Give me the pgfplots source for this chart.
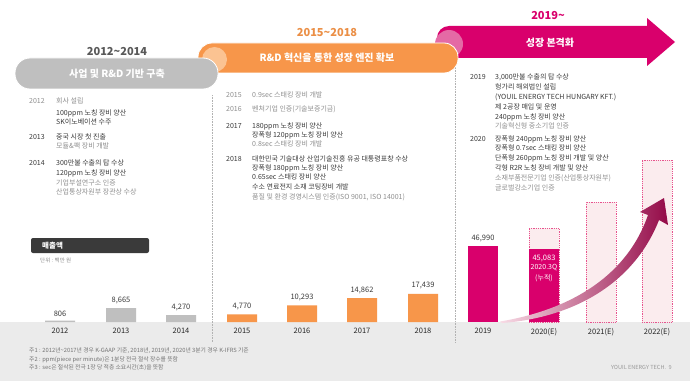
\documentclass[border=0pt]{standalone}
\usepackage{fontspec}
\setmainfont{Noto Sans CJK KR}
\usepackage{pgfplots}
\pgfplotsset{compat=1.18}
\definecolor{cgray}{HTML}{BFBFBF}
\definecolor{corange}{HTML}{F7964A}
\definecolor{cpeach}{HTML}{FBC392}
\definecolor{cmag}{HTML}{D9006C}
\definecolor{cpink}{HTML}{E46AA5}
\definecolor{cpale}{HTML}{FBECEE}
\definecolor{cdash}{HTML}{E8548E}
\definecolor{tdark}{HTML}{3A3A3A}
\definecolor{tlight}{HTML}{8F8F8F}
\definecolor{band}{HTML}{EBEBEB}
\definecolor{adark}{HTML}{940A48}
\definecolor{alight}{HTML}{F8DCE6}
\newcommand\fs[1]{\fontsize{#1}{#1}\selectfont}
\newcommand\Ld[3]{\node[anchor=west,inner sep=0pt,text=tdark,font=\fs{7}] at (#1,#2) {#3};}
\newcommand\Lg[3]{\node[anchor=west,inner sep=0pt,text=tlight,font=\fs{7}] at (#1,#2) {#3};}
\begin{document}
\begin{tikzpicture}
\begin{scope}[x=1pt,y=-1pt,shift={(0pt,381pt)}]
% background
\fill[white] (0,0) rectangle (690,381);
\fill[band] (0,322) rectangle (690,381);
% separators
\draw[densely dotted, black!30, line width=0.6pt] (212,95) -- (212,342);
\draw[densely dotted, black!30, line width=0.6pt] (455,65) -- (455,342);
% magenta arrow
\fill[cmag, rounded corners=12pt] (437,26) rectangle (660,58);
\fill[cmag] (647,18) -- (675,42) -- (647,66) -- cycle;
\fill[cpink] (449,44) circle (14);
% orange banner
\filldraw[fill=corange, draw=white, line width=0.8pt, rounded corners=14pt] (198,43) rectangle (458,73);
\fill[cpeach] (214.5,59.5) circle (12.5);
% gray banner
\filldraw[fill=cgray, draw=white, line width=0.8pt, rounded corners=15pt] (15,58) rectangle (218,89);
% headings
\node[text=black!65, font=\fs{11}\bfseries] at (117,52) {2012\textasciitilde2014};
\node[text=white, font=\fs{10}\bfseries] at (117,74) {사업 및 R\&D 기반 구축};
\node[text=corange!95!black, font=\fs{11}\bfseries] at (327,33) {2015\textasciitilde2018};
\node[text=white, font=\fs{10}\bfseries] at (327,58) {R\&D 혁신을 통한 성장 엔진 확보};
\node[text=cmag, font=\fs{11}\bfseries] at (548,16) {2019\textasciitilde};
\node[text=white, font=\fs{10}\bfseries] at (550,43) {성장 본격화};
% left column
\Lg{29}{101}{2012}
\Lg{56}{101}{회사 설립}
\Ld{56}{113}{100ppm 노칭 장비 양산}
\Ld{56}{122}{SK이노베이션 수주}
\Ld{29}{137}{2013}
\Ld{56}{137}{중국 시장 첫 진출}
\Lg{56}{146}{모듈\&팩 장비 개발}
\Ld{29}{163}{2014}
\Ld{56}{163}{300만불 수출의 탑 수상}
\Ld{56}{173}{120ppm 노칭 장비 양산}
\Lg{56}{183}{기업부설연구소 인증}
\Lg{56}{192}{산업통상자원부 장관상 수상}
% middle column
\Lg{226}{95}{2015}
\Lg{252}{95}{0.9sec 스태킹 장비 개발}
\Lg{226}{109}{2016}
\Lg{252}{109}{벤처기업 인증(기술보증기금)}
\Ld{226}{126}{2017}
\Ld{252}{126}{180ppm 노칭 장비 양산}
\Ld{252}{135}{장폭형 120ppm 노칭 장비 양산}
\Lg{252}{144}{0.8sec 스태킹 장비 개발}
\Ld{226}{159}{2018}
\Ld{252}{159}{대한민국 기술대상 산업기술진흥 유공 대통령표창 수상}
\Ld{252}{168}{장폭형 180ppm 노칭 장비 양산}
\Ld{252}{177}{0.65sec 스태킹 장비 양산}
\Ld{252}{187}{수소 연료전지 소재 코팅장비 개발}
\Lg{252}{197}{품질 및 환경 경영시스템 인증(ISO 9001, ISO 14001)}
% right column
\Ld{470}{77}{2019}
\Ld{495}{77}{3,000만불 수출의 탑 수상}
\Ld{495}{87}{헝가리 해외법인 설립}
\Ld{495}{97}{(YOUIL ENERGY TECH HUNGARY KFT.)}
\Ld{495}{107}{제 2공장 매입 및 운영}
\Ld{495}{117}{240ppm 노칭 장비 양산}
\Lg{495}{126}{기술혁신형 중소기업 인증}
\Ld{470}{139}{2020}
\Ld{495}{139}{장폭형 240ppm 노칭 장비 양산}
\Ld{495}{148}{장폭형 0.7sec 스태킹 장비 양산}
\Ld{495}{158}{단폭형 260ppm 노칭 장비 개발 및 양산}
\Ld{495}{168}{각형 R2R 노칭 장비 개발 및 양산}
\Lg{495}{178}{소재부품전문기업 인증(산업통상자원부)}
\Lg{495}{188}{글로벌강소기업 인증}
% sales box
\fill[tdark, rounded corners=2pt] (31,238) rectangle (149,253);
\node[anchor=west, inner sep=0pt, text=white, font=\fs{7.5}\bfseries] at (42,245.5) {매출액};
\node[anchor=west, inner sep=0pt, text=tlight, font=\fs{5.5}] at (40,260) {단위 : 백만 원};
% notes
\node[anchor=west, inner sep=0pt, text=black!55, font=\fs{5.8}] at (29,350.5) {주1 : 2012년\textasciitilde2017년 경우 K-GAAP 기준, 2018년, 2019년, 2020년 3분기 경우 K-IFRS 기준};
\node[anchor=west, inner sep=0pt, text=black!55, font=\fs{5.8}] at (29,359.5) {주2 : ppm(piece per minute)은 1분당 전극 절삭 장수를 뜻함};
\node[anchor=west, inner sep=0pt, text=black!55, font=\fs{5.8}] at (29,368) {주3 : sec은 절삭된 전극 1장 당 적층 소요시간(초)을 뜻함};
\node[anchor=east, inner sep=0pt, text=black!40, font=\fs{5.6}] at (672,367) {YOUIL ENERGY TECH.\ \ 9};
\end{scope}

\begin{axis}[
  at={(0pt,59pt)}, anchor=south west, scale only axis,
  width=690pt, height=322pt,
  xmin=0, xmax=690, ymin=0, ymax=199640,
  clip=false,
  axis line style={draw=none}, ytick=\empty,
  xtick={60,121,181,242,302,362,423,483,544,601,657},
  xticklabels={2012,2013,2014,2015,2016,2017,2018,2019,2020(E),2021(E),2022(E)},
  major tick length=0pt,
  xticklabel style={font=\fs{7.5}, text=black!85, yshift=-3pt},
  every node near coord/.append style={font=\fs{7.5}, text=tdark, yshift=1pt},
  /pgf/number format/1000 sep={,},
  /pgf/number format/assume math mode=true,
]
\addplot[ybar, bar width=30, bar shift=0, fill=cgray, draw=none, nodes near coords]
  coordinates {(60,806) (121,8665) (181,4270)};
\addplot[ybar, bar width=30, bar shift=0, fill=corange, draw=none, nodes near coords]
  coordinates {(242,4770) (302,10293) (362,14862) (423,17439)};
\addplot[ybar, bar width=30, bar shift=0, fill=cpale, draw=cdash, densely dotted, line width=0.8pt]
  coordinates {(544,58100) (601,74400) (657,100400)};
\addplot[ybar, bar width=30, bar shift=0, fill=cmag, draw=none, nodes near coords]
  coordinates {(483,46990)};
\addplot[ybar, bar width=30, bar shift=0, fill=cmag, draw=none]
  coordinates {(544,45083)};
\node[text=white, font=\fs{7.5}] at (axis cs:544,39680) {45,083};
\node[text=white, font=\fs{7}] at (axis cs:544,33480) {2020.3Q};
\node[text=white, font=\fs{7}] at (axis cs:544,27280) {(누적)};
\end{axis}

\begin{scope}[x=1pt,y=-1pt,shift={(0pt,381pt)}]
\shade[left color=alight, right color=adark]
  (500,321.5) .. controls (575,309) and (628,273) .. (648,215)
  -- (640,212) -- (664,198) -- (668,225) -- (659,220)
  .. controls (633,286) and (570,318) .. (502,323) -- cycle;
\end{scope}
\pgfresetboundingbox
\path (0,0) rectangle (690pt,381pt);
\end{tikzpicture}
\end{document}
